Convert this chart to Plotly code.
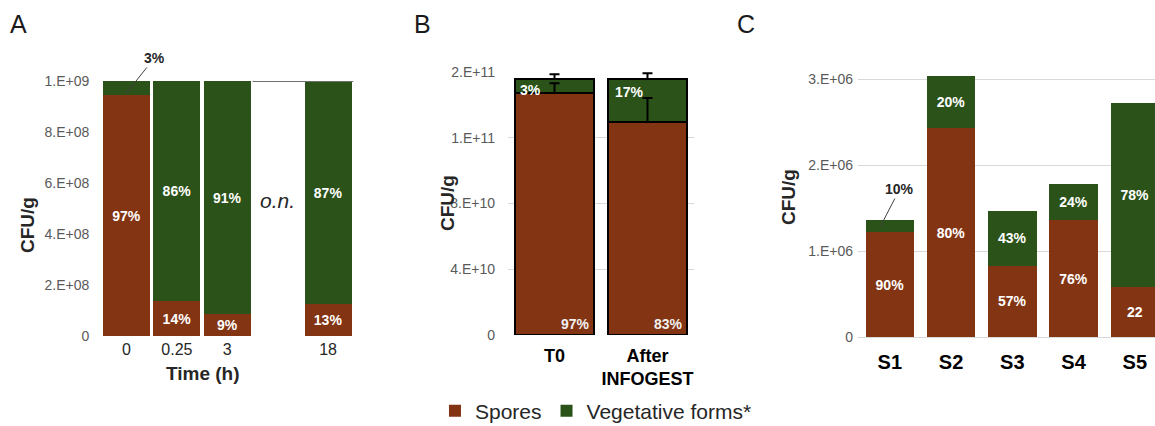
import plotly.graph_objects as go

# ---------------- data ----------------
SPORE_COLOR = "#833413"
VEG_COLOR = "#2B5219"

# Panel A
a_cats = ["0", "0.25", "3", " ", "18"]
a_spores = [0.945e9, 0.137e9, 0.086e9, None, 0.125e9]
a_veg = [0.055e9, 0.863e9, 0.914e9, None, 0.875e9]
a_spores_txt = ["97%", "14%", "9%", "", "13%"]
a_veg_txt = ["", "86%", "91%", "", "87%"]
a_small_label = "3%"
a_ytickvals = [0, 2e8, 4e8, 6e8, 8e8, 1e9]
a_yticktext = ["0", "2.E+08", "4.E+08", "6.E+08", "8.E+08", "1.E+09"]

# Panel B
b_cats = ["T0", "After<br>INFOGEST"]
b_spores = [1.472e11, 1.296e11]
b_spores_err = [0.6e10, 1.46e10]
b_veg = [0.085e11, 0.261e11]
b_veg_err = [0.30e10, 0.36e10]
b_spores_txt = ["97%", "83%"]
b_veg_txt = ["3%", "17%"]
b_ytickvals = [0, 4e10, 8e10, 1.2e11, 1.6e11]
b_yticktext = ["0", "4.E+10", "8.E+10", "1.E+11", "2.E+11"]

# Panel C
c_cats = ["S1", "S2", "S3", "S4", "S5"]
c_spores = [1.22e6, 2.43e6, 0.83e6, 1.36e6, 0.58e6]
c_veg = [0.14e6, 0.60e6, 0.64e6, 0.42e6, 2.14e6]
c_spores_txt = ["90%", "80%", "57%", "76%", "22"]
c_veg_txt = ["", "20%", "43%", "24%", "78%"]
c_small_label = "10%"
c_ytickvals = [0, 1e6, 2e6, 3e6]
c_yticktext = ["0", "1.E+06", "2.E+06", "3.E+06"]

FONT = "Liberation Sans, Arial, sans-serif"
W, H = 1155, 426

fig = go.Figure()

lbl_font = dict(family=FONT, size=14, color="white", weight="bold")

# Panel A bars
fig.add_trace(go.Bar(x=a_cats, y=a_spores, name="Spores", marker_color=SPORE_COLOR,
                     marker_line_width=0, width=0.93, text=a_spores_txt,
                     textposition="inside", insidetextanchor="middle", textfont=lbl_font,
                     xaxis="x", yaxis="y", legendgroup="sp", showlegend=True))
fig.add_trace(go.Bar(x=a_cats, y=a_veg, name="Vegetative forms*", marker_color=VEG_COLOR,
                     marker_line_width=0, width=0.93, text=a_veg_txt,
                     textposition="inside", insidetextanchor="middle", textfont=lbl_font,
                     xaxis="x", yaxis="y", legendgroup="veg", showlegend=True))

# Panel B bars
fig.add_trace(go.Bar(x=b_cats, y=b_spores, name="Spores", marker_color=SPORE_COLOR,
                     marker_line=dict(color="black", width=2), width=0.86,
                     xaxis="x2", yaxis="y2", legendgroup="sp", showlegend=False))
fig.add_trace(go.Bar(x=b_cats, y=b_veg, name="Vegetative forms*", marker_color=VEG_COLOR,
                     marker_line=dict(color="black", width=2), width=0.86,
                     xaxis="x2", yaxis="y2", legendgroup="veg", showlegend=False))
# Panel B error bars (upper only), drawn on top of the stacked segments
b_totals = [s + v for s, v in zip(b_spores, b_veg)]
fig.add_trace(go.Scatter(x=b_cats, y=b_spores, mode="markers", marker=dict(opacity=0, size=1),
                         error_y=dict(type="data", symmetric=False, array=b_spores_err,
                                      arrayminus=[0] * len(b_spores_err), color="black",
                                      thickness=2, width=5),
                         xaxis="x2", yaxis="y2", showlegend=False, hoverinfo="skip"))
fig.add_trace(go.Scatter(x=b_cats, y=b_totals, mode="markers", marker=dict(opacity=0, size=1),
                         error_y=dict(type="data", symmetric=False, array=b_veg_err,
                                      arrayminus=[0] * len(b_veg_err), color="black",
                                      thickness=2, width=5),
                         xaxis="x2", yaxis="y2", showlegend=False, hoverinfo="skip"))

# Panel C bars
fig.add_trace(go.Bar(x=c_cats, y=c_spores, name="Spores", marker_color=SPORE_COLOR,
                     marker_line_width=0, width=0.79, text=c_spores_txt,
                     textposition="inside", insidetextanchor="middle", textfont=lbl_font,
                     xaxis="x3", yaxis="y3", legendgroup="sp", showlegend=False))
fig.add_trace(go.Bar(x=c_cats, y=c_veg, name="Vegetative forms*", marker_color=VEG_COLOR,
                     marker_line_width=0, width=0.79, text=c_veg_txt,
                     textposition="inside", insidetextanchor="middle", textfont=lbl_font,
                     xaxis="x3", yaxis="y3", legendgroup="veg", showlegend=False))

ytick_font = dict(family=FONT, size=14, color="#595959")

def px_x(p):
    return p / W

def px_y(p):
    return 1 - p / H

layout = dict(
    width=W, height=H, margin=dict(l=0, r=0, t=0, b=0, autoexpand=False),
    paper_bgcolor="white", plot_bgcolor="white",
    barmode="stack",
    font=dict(family=FONT, color="#262626"),
    uniformtext=dict(minsize=14, mode="show"),
    showlegend=True,
    legend=dict(orientation="h", x=0.516, xanchor="center", y=px_y(411), yanchor="middle",
                font=dict(family=FONT, size=21, color="#262626"), itemwidth=30,
                traceorder="normal"),
    # Panel A axes
    xaxis=dict(domain=[px_x(101.3), px_x(353.3)], anchor="y", type="category",
               range=[-0.5, 4.5], showgrid=False, showline=False, ticks="",
               tickfont=dict(family=FONT, size=16, color="#262626"), ticklabelstandoff=2),
    yaxis=dict(domain=[px_y(336), px_y(81)], anchor="x", range=[0, 1e9],
               tickvals=a_ytickvals, ticktext=a_yticktext, showgrid=False,
               zeroline=False, showline=False, tickfont=ytick_font,
               ticklabelstandoff=11),
    # Panel B axes
    xaxis2=dict(domain=[px_x(508), px_x(694)], anchor="y2", type="category",
                range=[-0.5, 1.5], showgrid=False, showline=False, ticks="",
                tickfont=dict(family=FONT, size=18, color="black", weight="bold"),
                ticklabelstandoff=8),
    yaxis2=dict(domain=[px_y(335), px_y(72)], anchor="x2", range=[0, 1.6e11],
                tickvals=b_ytickvals, ticktext=b_yticktext, showgrid=True,
                gridcolor="#d9d9d9", gridwidth=1, zeroline=False, showline=False,
                tickfont=ytick_font, ticklabelstandoff=12),
    # Panel C axes
    xaxis3=dict(domain=[px_x(858), 1.0], anchor="y3", type="category",
                range=[-0.52, 4.33], showgrid=False, showline=False, ticks="",
                tickfont=dict(family=FONT, size=20, color="black", weight="bold"),
                ticklabelstandoff=11),
    yaxis3=dict(domain=[px_y(337), px_y(61.8)], anchor="x3", range=[0, 3.2e6],
                tickvals=c_ytickvals, ticktext=c_yticktext, showgrid=True,
                gridcolor="#d9d9d9", gridwidth=1, zeroline=True, zerolinecolor="#d9d9d9",
                zerolinewidth=1, showline=False, tickfont=ytick_font, ticklabelstandoff=4),
)
fig.update_layout(**layout)

# Top line in panel A at the maximum tick
fig.add_shape(type="line", xref="x domain", yref="y", x0=0.6, x1=1.0,
              y0=a_ytickvals[-1], y1=a_ytickvals[-1],
              line=dict(color="#707070", width=2), layer="above")

ann = []
title_font = dict(family=FONT, size=19, color="#262626", weight="bold")
# Panel letters
for letter, x in (("A", 8), ("B", 412), ("C", 735)):
    ann.append(dict(text=letter, xref="paper", yref="paper", x=px_x(x), y=px_y(24),
                    xanchor="left", yanchor="middle", showarrow=False,
                    font=dict(family=FONT, size=25, color="#1a1a1a")))
# Axis titles
for x, yc in ((28, 225), (447, 203), (788, 197)):
    ann.append(dict(text="CFU/g", xref="paper", yref="paper", x=px_x(x), y=px_y(yc),
                    xanchor="center", yanchor="middle", textangle=-90, showarrow=False,
                    font=title_font))
ann.append(dict(text="Time (h)", xref="paper", yref="paper", x=px_x(203), y=px_y(373),
                xanchor="center", yanchor="middle", showarrow=False,
                font=dict(family=FONT, size=19, color="#262626", weight="bold")))
# o.n. label in the empty slot
ann.append(dict(text="<i>o.n.</i>", xref="x", yref="y", x=" ", y=0.53e9, showarrow=False,
                font=dict(family=FONT, size=21, color="#262626")))
# Leader-line label, panel A bar 0 vegetative portion
ann.append(dict(text="<b>" + a_small_label + "</b>", xref="x", yref="y", x=a_cats[0],
                y=a_spores[0] + a_veg[0] * 0.15, ax=28, ay=-35, showarrow=True,
                arrowhead=0, arrowwidth=1, arrowcolor="#404040", standoff=0,
                font=dict(family=FONT, size=14, color="#262626")))
# Leader-line label, panel C S1 vegetative portion
ann.append(dict(text="<b>" + c_small_label + "</b>", xref="x3", yref="y3", x=-0.15,
                y=c_spores[0] + c_veg[0] * 0.5, ax=19, ay=-37, showarrow=True,
                arrowhead=0, arrowwidth=1, arrowcolor="#404040", standoff=0,
                font=dict(family=FONT, size=14, color="#262626")))
# Panel B labels
for i in range(len(b_cats)):
    ann.append(dict(text="<b>" + b_veg_txt[i] + "</b>", xref="x2", yref="y2",
                    x=i - 0.43, y=b_totals[i], xanchor="left", yanchor="top",
                    xshift=3 if i == 0 else 5, yshift=-1 if i == 0 else -3,
                    showarrow=False, font=dict(family=FONT, size=14, color="white")))
    ann.append(dict(text="<b>" + b_spores_txt[i] + "</b>", xref="x2", yref="y2",
                    x=i + 0.43, y=0, xanchor="right", yanchor="bottom",
                    xshift=-2, yshift=1,
                    showarrow=False, font=dict(family=FONT, size=14, color="#f0f0f0")))
fig.update_layout(annotations=ann)

fig.write_html("out.html")
